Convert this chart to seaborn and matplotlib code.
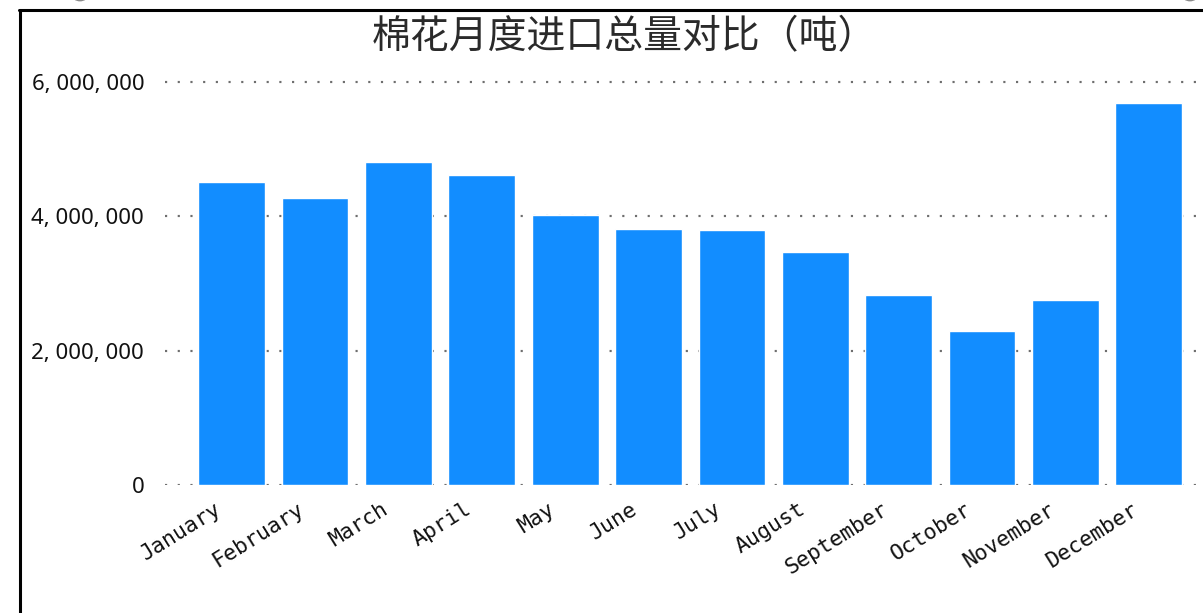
import matplotlib
matplotlib.use("Agg")
import matplotlib.pyplot as plt
from matplotlib.lines import Line2D
from matplotlib.patches import Arc
from matplotlib.transforms import IdentityTransform, ScaledTranslation
from matplotlib.ticker import FuncFormatter
import seaborn as sns

# Monthly cotton import totals (tonnes)
months = ["January", "February", "March", "April", "May", "June",
          "July", "August", "September", "October", "November", "December"]
imports = [4510000, 4270000, 4810000, 4610000, 4020000, 3810000,
           3790000, 3470000, 2830000, 2290000, 2750000, 5680000]
yticks = [0, 2000000, 4000000, 6000000]
title = "棉花月度进口总量对比（吨）"

bar_color = "#128dff"

sns.set_theme(style="white")
plt.rcParams["font.family"] = ["Noto Sans CJK SC", "DejaVu Sans"]

fig = plt.figure(figsize=(12.03, 6.13), dpi=100)
ax = fig.add_axes([165 / 1203, 128 / 613, 1 - 165 / 1203, 423.15 / 613])

sns.barplot(x=months, y=imports, color=bar_color, saturation=1,
            width=0.8, ax=ax, zorder=2)

ax.set_xlim(-0.8, 11.65)
ax.set_ylim(0, 6300000)
ax.set_yticks(yticks)
ax.yaxis.set_major_formatter(
    FuncFormatter(lambda v, p: f"{int(v):,}".replace(",", ", ")))
ax.set_xlabel("")
ax.set_ylabel("")
for s in ax.spines.values():
    s.set_visible(False)

ax.yaxis.grid(True, linestyle=(0, (1, 4.9)), linewidth=1.55,
              color="#6e6e6e", zorder=0)
ax.xaxis.grid(False)
ax.set_axisbelow(True)

ax.tick_params(axis="both", length=0)
ax.tick_params(axis="y", pad=15)
ax.tick_params(axis="x", pad=10)
for lab in ax.get_yticklabels():
    lab.set_fontfamily("Noto Sans")
    lab.set_fontsize(16)
    lab.set_color("#111111")
shift = ScaledTranslation(-7 / 100, 0, fig.dpi_scale_trans)
for lab in ax.get_xticklabels():
    lab.set_fontfamily("DejaVu Sans Mono")
    lab.set_fontsize(15.5)
    lab.set_rotation(32)
    lab.set_ha("right")
    lab.set_color("#111111")
    lab.set_transform(lab.get_transform() + shift)

fig.text(624 / 1203, 1 - 37 / 613, title, ha="center", va="center",
         fontsize=28, fontweight="light", color="#2a2a2a")

# outer frame
fig.add_artist(Line2D([20, 20], [0, 603], transform=IdentityTransform(),
                      color="black", lw=2.2))
fig.add_artist(Line2D([19, 1203], [603, 603], transform=IdentityTransform(),
                      color="black", lw=2.2))
# corner decorations above the frame
for cx in (80, 1190):
    fig.add_artist(Arc((cx, 622), 18, 18, theta1=200, theta2=340,
                       transform=IdentityTransform(), color="#8a8a8a", lw=2))

fig.savefig("out.png", dpi=100)
